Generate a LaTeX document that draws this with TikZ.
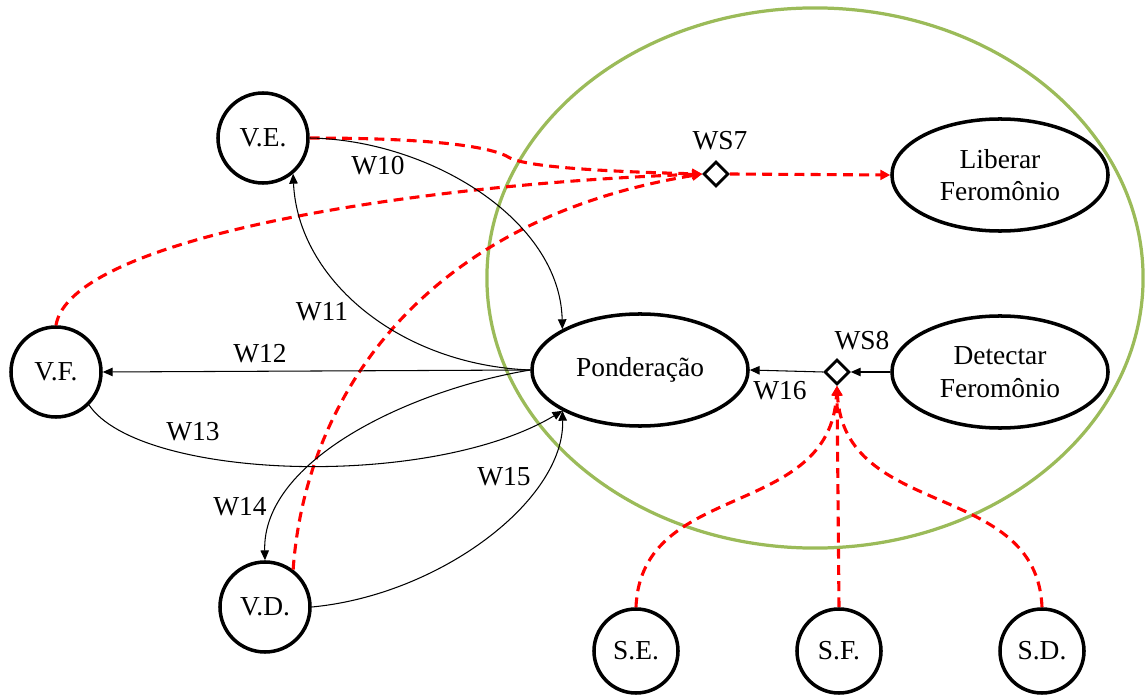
\documentclass[tikz,border=0pt]{standalone}
\usepackage{fontspec}
\setmainfont{Liberation Serif}
\usetikzlibrary{shapes,arrows.meta}
\definecolor{verdeoff}{RGB}{155,187,89}

\begin{document}
\begin{tikzpicture}[x=0.025cm, y=-0.025cm, font=\fontsize{19.5}{23}\selectfont]
    \tikzstyle{vcirc} = [circle, draw, line width=2.5pt, minimum size=2.25cm, inner sep=0pt, fill=white]
    \tikzstyle{scirc} = [vcirc, minimum size=2.1cm]
    \tikzstyle{acao} = [ellipse, draw, line width=2.5pt, minimum width=5.4cm, minimum height=2.8cm, inner sep=0pt, align=center, fill=white]
    \tikzstyle{juncao} = [diamond, draw, line width=2pt, minimum size=0.62cm, inner sep=0pt, fill=white]
    \tikzstyle{peso} = [draw, line width=0.75pt, -{Triangle[length=7pt,width=6pt]}]
    \tikzstyle{sinal} = [draw=red, line width=2.2pt, dash pattern=on 7pt off 4.5pt, -{Triangle[length=7pt,width=7pt]}]
    \useasboundingbox (0,0) rectangle (1146,695);

    % agente
    \draw[verdeoff, line width=2.3pt] (815,278) ellipse [x radius=8.2cm, y radius=6.75cm];

    \node[vcirc] (ve) at (263,138) {V.E.};
    \node[vcirc] (vf) at (56,372) {V.F.};
    \node[vcirc] (vd) at (265,607) {V.D.};
    \node[scirc] (se) at (636,651) {S.E.};
    \node[scirc] (sf) at (839,651) {S.F.};
    \node[scirc] (sd) at (1042,651) {S.D.};

    \node[acao] (pond) at (640,370) {Ponderação};
    \node[acao] (lib) at (1000,175) {Liberar\\Feromônio};
    \node[acao] (det) at (1000,372) {Detectar\\Feromônio};

    \node[juncao] (ws7) at (716,174) {};
    \node[juncao] (ws8) at (837,372) {};
    \node (lws7) at (720,141) {WS7};
    \node (lws8) at (862,341) {WS8};

    % sinais
    \draw[sinal] (ve.east) .. controls (420,138) and (490,145) .. (510,158) .. controls (530,168) and (620,172) .. (ws7.west);
    \draw[sinal] (vf.north) .. controls (70,240) and (400,185) .. (ws7.west);
    \draw[sinal] (vd.53) .. controls (305,400) and (420,220) .. (ws7.west);
    \draw[sinal] (ws7.east) -- (lib.west);
    \draw[sinal] (se.north) .. controls (641,480) and (830,520) .. (ws8.south);
    \draw[sinal] (sf.north) -- (ws8.south);
    \draw[sinal] (sd.north) .. controls (1037,480) and (844,520) .. (ws8.south);

    % pesos
    \draw[peso] (ve.east) .. controls (430,140) and (560,220) .. (pond.north west);
    \draw[peso] (pond.west) .. controls (400,365) and (298,280) .. (ve.-50);
    \draw[peso] (pond.west) -- (vf.east);
    \draw[peso] (vf.-45) .. controls (140,480) and (430,490) .. (pond.south west);
    \draw[peso] (pond.west) .. controls (410,390) and (262,460) .. (vd.north);
    \draw[peso] (vd.east) .. controls (440,595) and (565,500) .. (pond.south west);
    \draw[peso] (det.west) -- (ws8.east);
    \draw[peso] (ws8.west) -- (pond.east);

    \node (w10) at (378,166) {W10};
    \node (w11) at (322,312) {W11};
    \node (w12) at (260,354) {W12};
    \node (w13) at (193,432) {W13};
    \node (w14) at (240,507) {W14};
    \node (w15) at (504,477) {W15};
    \node (w16) at (780,391) {W16};
\end{tikzpicture}
\end{document}
